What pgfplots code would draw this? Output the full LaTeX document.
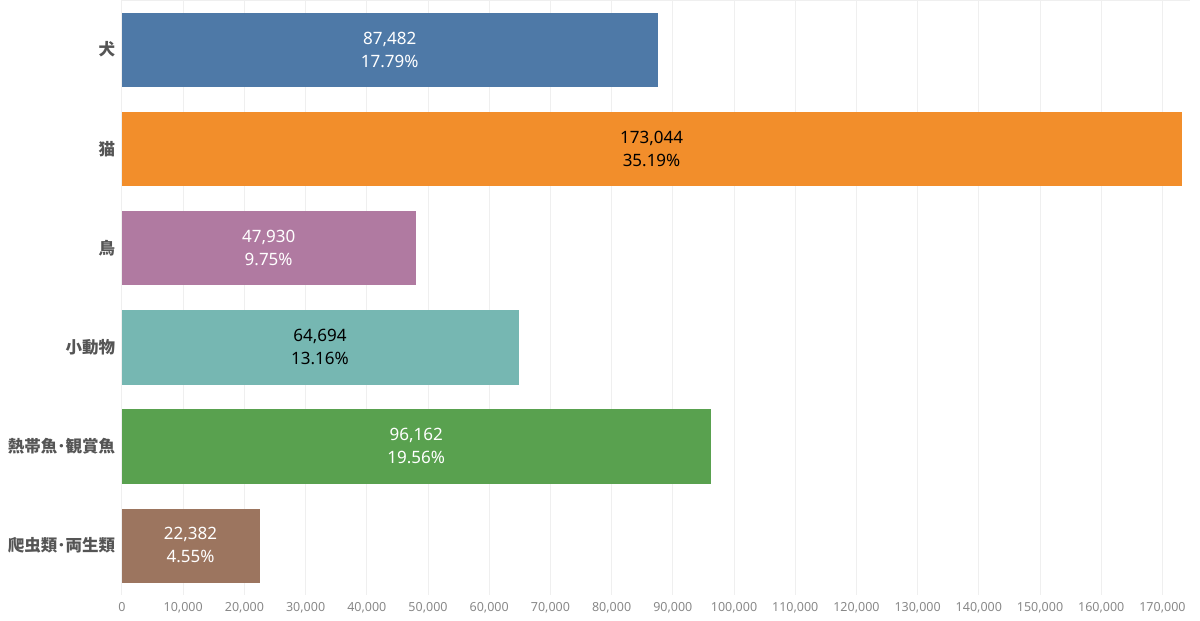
\documentclass[border=0pt]{standalone}
\usepackage{fontspec}
\setmainfont{Noto Sans}
\newfontfamily\cjk{Noto Sans CJK JP}
\usepackage{pgfplots}
\pgfplotsset{compat=1.18}
\definecolor{cBlue}{HTML}{4E79A7}
\definecolor{cOrange}{HTML}{F28E2B}
\definecolor{cPurple}{HTML}{B07AA1}
\definecolor{cTeal}{HTML}{76B7B2}
\definecolor{cGreen}{HTML}{59A14F}
\definecolor{cBrown}{HTML}{9C755F}
\definecolor{gridc}{HTML}{EFEFEF}
\definecolor{catc}{HTML}{555555}
\definecolor{tickc}{HTML}{888888}
\begin{document}
\begin{tikzpicture}
\useasboundingbox (-122pt,-26pt) rectangle (1078pt,595pt);
\begin{axis}[
  at={(0,0)}, anchor=south west,
  scale only axis, width=1068pt, height=595pt,
  xmin=0, xmax=174500, ymin=-0.5, ymax=5.5, y dir=reverse,
  xbar, bar width=0.74, bar shift=0pt,
  axis line style={draw=none},
  xtick={0,10000,...,170000},
  xtick style={draw=none}, ytick style={draw=none},
  xmajorgrids, major grid style={gridc, line width=1pt},
  ytick={0,1,2,3,4,5},
  yticklabels={犬,猫,鳥,小動物,熱帯魚･観賞魚,爬虫類･両生類},
  yticklabel style={font=\cjk\bfseries\fontsize{16.5}{18}\selectfont, text=catc, xshift=1pt},
  xticklabel style={font=\fontsize{12.5}{15}\selectfont, text=tickc, yshift=-4pt},
  xticklabel={\pgfmathprintnumber[fixed, precision=0, 1000 sep={,}, assume math mode=true]{\tick}},
  scaled x ticks=false,
  clip=false,
]
\draw[gridc, line width=1pt] (rel axis cs:0,1) -- (rel axis cs:1,1);
\addplot[fill=cBlue, draw=cBlue] coordinates {(87482,0)};
\addplot[fill=cOrange, draw=cOrange] coordinates {(173044,1)};
\addplot[fill=cPurple, draw=cPurple] coordinates {(47930,2)};
\addplot[fill=cTeal, draw=cTeal] coordinates {(64694,3)};
\addplot[fill=cGreen, draw=cGreen] coordinates {(96162,4)};
\addplot[fill=cBrown, draw=cBrown] coordinates {(22382,5)};
% value labels (centred on the bars)
\addplot[draw=none, mark=none, xbar=0pt, bar width=0, forget plot,
  point meta=explicit symbolic,
  nodes near coords,
  every node near coord/.style={anchor=center, align=center, text=white,
     font=\fontsize{17}{23}\selectfont}]
  coordinates {(43741,0) [{87,482\\17.79\%}]
               (23965,2) [{47,930\\9.75\%}]
               (48081,4) [{96,162\\19.56\%}]
               (11191,5) [{22,382\\4.55\%}]};
\addplot[draw=none, mark=none, xbar=0pt, bar width=0, forget plot,
  point meta=explicit symbolic,
  nodes near coords,
  every node near coord/.style={anchor=center, align=center, text=black,
     font=\fontsize{17}{23}\selectfont}]
  coordinates {(86522,1) [{173,044\\35.19\%}]
               (32347,3) [{64,694\\13.16\%}]};
\end{axis}
\end{tikzpicture}
\end{document}
